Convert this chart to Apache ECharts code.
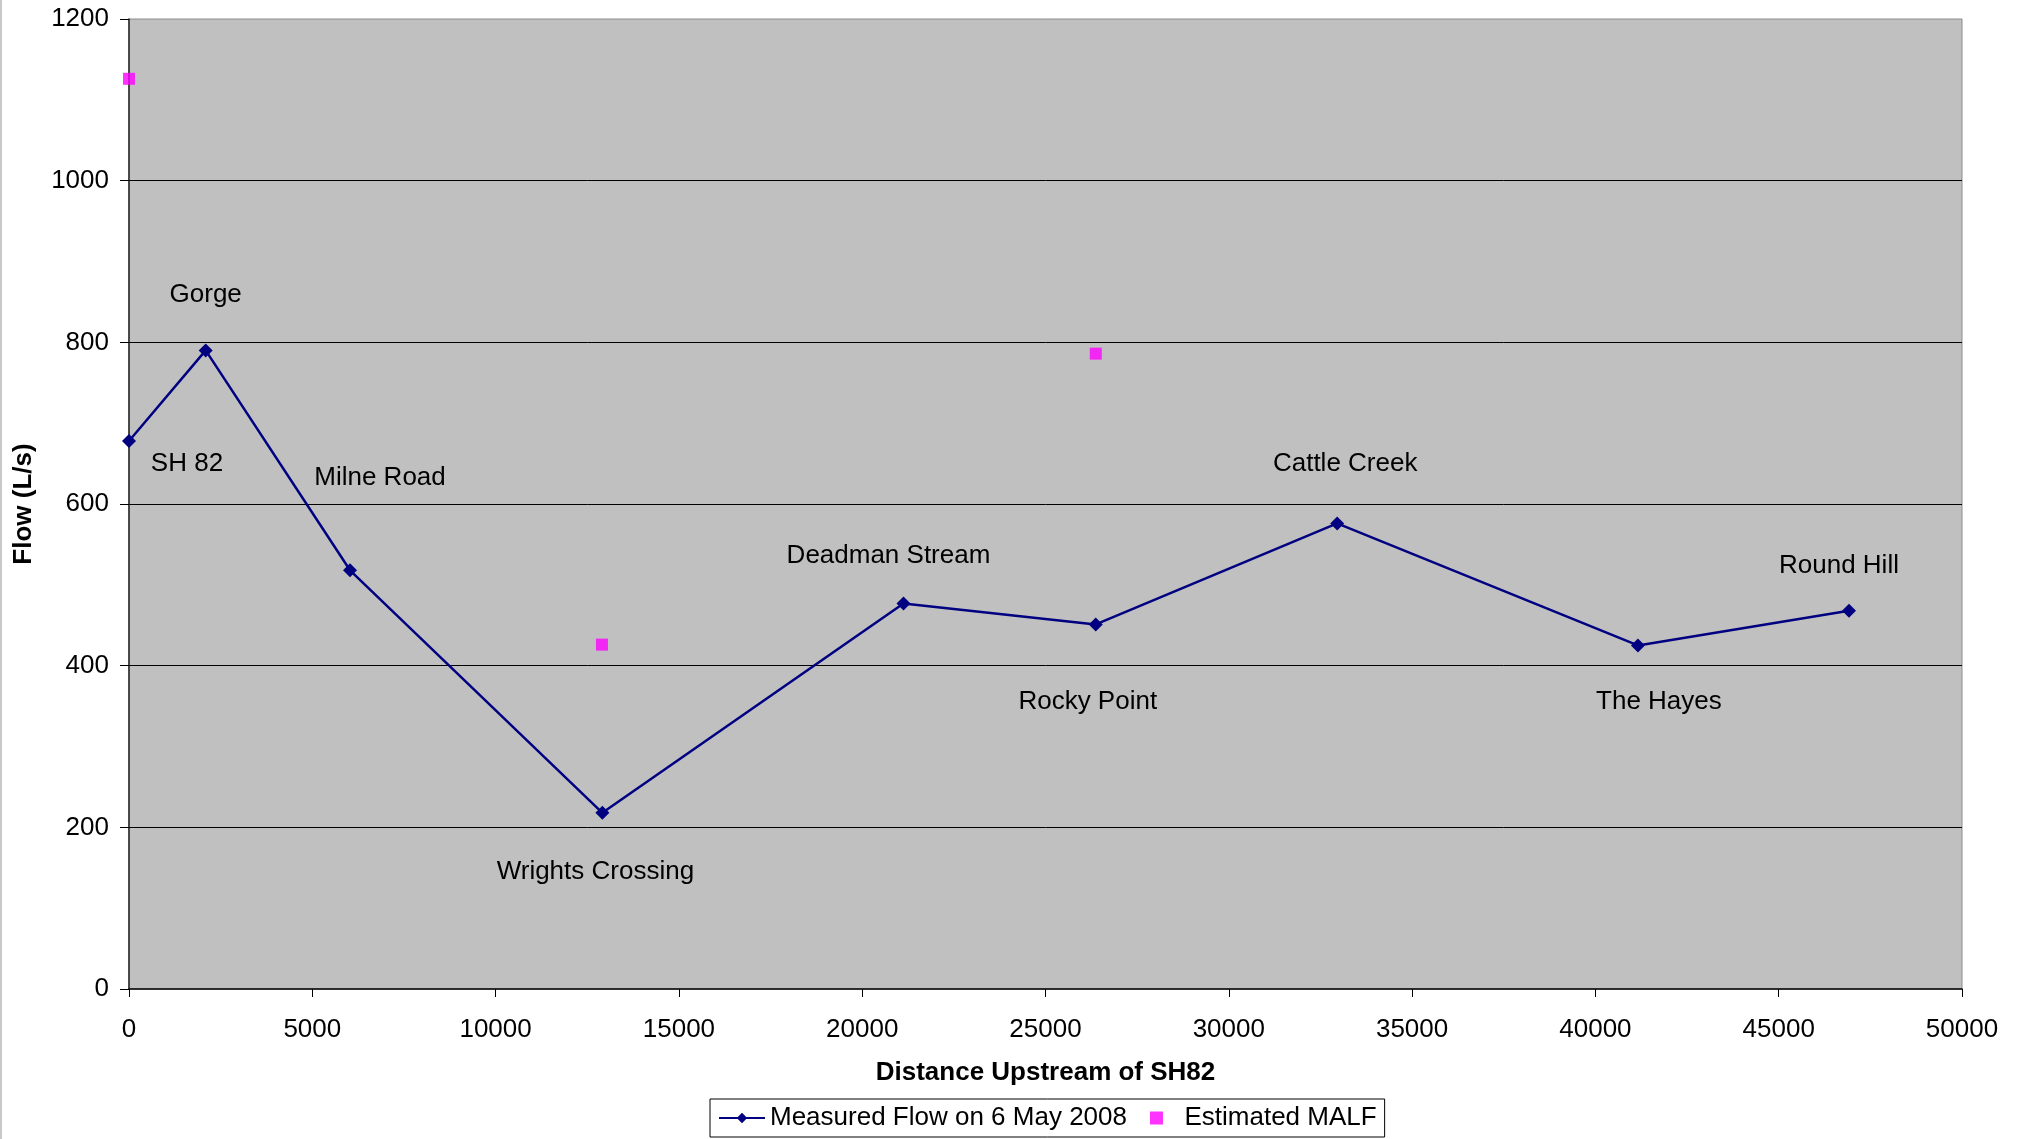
<!DOCTYPE html>
<html>
<head>
<meta charset="utf-8">
<title>Flow vs distance upstream of SH82</title>
<script src="https://cdn.jsdelivr.net/npm/echarts@6/dist/echarts.min.js"></script>
<style>
  html, body { margin: 0; padding: 0; background: #ffffff; }
  #chart { width: 2022px; height: 1139px; }
</style>
</head>
<body>
<div id="chart"></div>
<script>
// Measured flow on 6 May 2008 at each site (distance upstream of SH82 in m, flow in L/s)
const siteNames = ['SH 82', 'Gorge', 'Milne Road', 'Wrights Crossing', 'Deadman Stream',
                   'Rocky Point', 'Cattle Creek', 'The Hayes', 'Round Hill'];
const siteDistance = [0, 2092, 6029, 12913, 21126, 26371, 32956, 41160, 46917];
const measuredFlow = [678, 790, 518, 218, 477, 451, 576, 425, 468];

// Estimated MALF at three sites
const malfDistance = [0, 12901, 26371];
const malfFlow = [1126, 426, 786];

// Axis ticks
const xTicks = [0, 5000, 10000, 15000, 20000, 25000, 30000, 35000, 40000, 45000, 50000];
const yTicks = [0, 200, 400, 600, 800, 1000, 1200];

// Pixel offsets of each site name from its point
const siteLabelOffset = [[58, 23], [0, -56], [30, -92], [-7, 59], [-15, -48],
                         [-8, 77], [8, -60], [21, 56], [-10, -45]];

const FONT = "'Liberation Sans', Arial, sans-serif";
const FS = 26;

const measuredData = siteDistance.map((d, i) => ({ name: siteNames[i], value: [d, measuredFlow[i]] }));
const malfData = malfDistance.map((d, i) => [d, malfFlow[i]]);

const chart = echarts.init(document.getElementById('chart'), null, { renderer: 'canvas' });

chart.setOption({
  backgroundColor: '#ffffff',
  animation: false,
  textStyle: { fontFamily: FONT },
  grid: {
    left: 129, right: 60, top: 19, bottom: 150,
    show: true,
    backgroundColor: '#C0C0C0',
    borderColor: '#8c8c8c',
    borderWidth: 1
  },
  graphic: [{
    type: 'rect',
    shape: { x: 0, y: 0, width: 2, height: 1139 },
    style: { fill: '#c8c8c8' },
    silent: true
  }],
  legend: {
    bottom: 2,
    left: 710,
    data: [
      { name: 'Measured Flow on 6 May 2008' },
      { name: 'Estimated MALF', icon: 'path://M0,0 L10,0 L10,10 L0,10 Z' }
    ],
    itemWidth: 46,
    itemHeight: 13,
    itemGap: 23,
    symbolKeepAspect: true,
    backgroundColor: '#ffffff',
    borderColor: '#000000',
    borderWidth: 1,
    borderRadius: 0,
    padding: [6, 8, 6, 8],
    textStyle: { fontFamily: FONT, fontSize: FS, color: '#000000' }
  },
  xAxis: {
    type: 'value',
    min: xTicks[0],
    max: xTicks[xTicks.length - 1],
    interval: xTicks[1] - xTicks[0],
    name: 'Distance Upstream of SH82',
    nameLocation: 'middle',
    nameGap: 71,
    nameTextStyle: { fontFamily: FONT, fontSize: FS, fontWeight: 'bold', color: '#000000' },
    axisLine: { show: true, onZero: false, lineStyle: { color: '#000000', width: 1.5 } },
    axisTick: { show: true, inside: false, length: 8, lineStyle: { color: '#000000', width: 1 } },
    axisLabel: { fontFamily: FONT, fontSize: FS, color: '#000000', margin: 28, formatter: v => String(v) },
    splitLine: { show: false }
  },
  yAxis: {
    type: 'value',
    min: yTicks[0],
    max: yTicks[yTicks.length - 1],
    interval: yTicks[1] - yTicks[0],
    name: 'Flow (L/s)',
    nameLocation: 'middle',
    nameGap: 92,
    nameTextStyle: { fontFamily: FONT, fontSize: FS, fontWeight: 'bold', color: '#000000' },
    axisLine: { show: true, onZero: false, lineStyle: { color: '#222222', width: 1.5 } },
    axisTick: { show: true, inside: false, length: 9, lineStyle: { color: '#000000', width: 1 } },
    axisLabel: { fontFamily: FONT, fontSize: FS, color: '#000000', margin: 20, formatter: v => String(v) },
    splitLine: {
      show: true,
      showMinLine: false,
      showMaxLine: false,
      lineStyle: { color: '#000000', width: 1 }
    }
  },
  series: [
    {
      name: 'Measured Flow on 6 May 2008',
      type: 'line',
      data: measuredData,
      symbol: 'diamond',
      symbolSize: 14,
      showAllSymbol: true,
      lineStyle: { color: '#000080', width: 2.5 },
      itemStyle: { color: '#000080' },
      label: {
        show: true,
        position: 'inside',
        formatter: p => p.name,
        fontFamily: FONT,
        fontSize: FS,
        color: '#000000',
        align: 'center',
        verticalAlign: 'middle'
      },
      labelLayout: p => ({
        dx: siteLabelOffset[p.dataIndex][0],
        dy: siteLabelOffset[p.dataIndex][1],
        hideOverlap: false
      }),
      emphasis: { disabled: true },
      z: 3
    },
    {
      name: 'Estimated MALF',
      type: 'scatter',
      data: malfData,
      symbol: 'rect',
      symbolSize: 12,
      itemStyle: { color: '#FF00FF' },
      emphasis: { disabled: true },
      z: 4
    }
  ]
});
</script>
</body>
</html>
